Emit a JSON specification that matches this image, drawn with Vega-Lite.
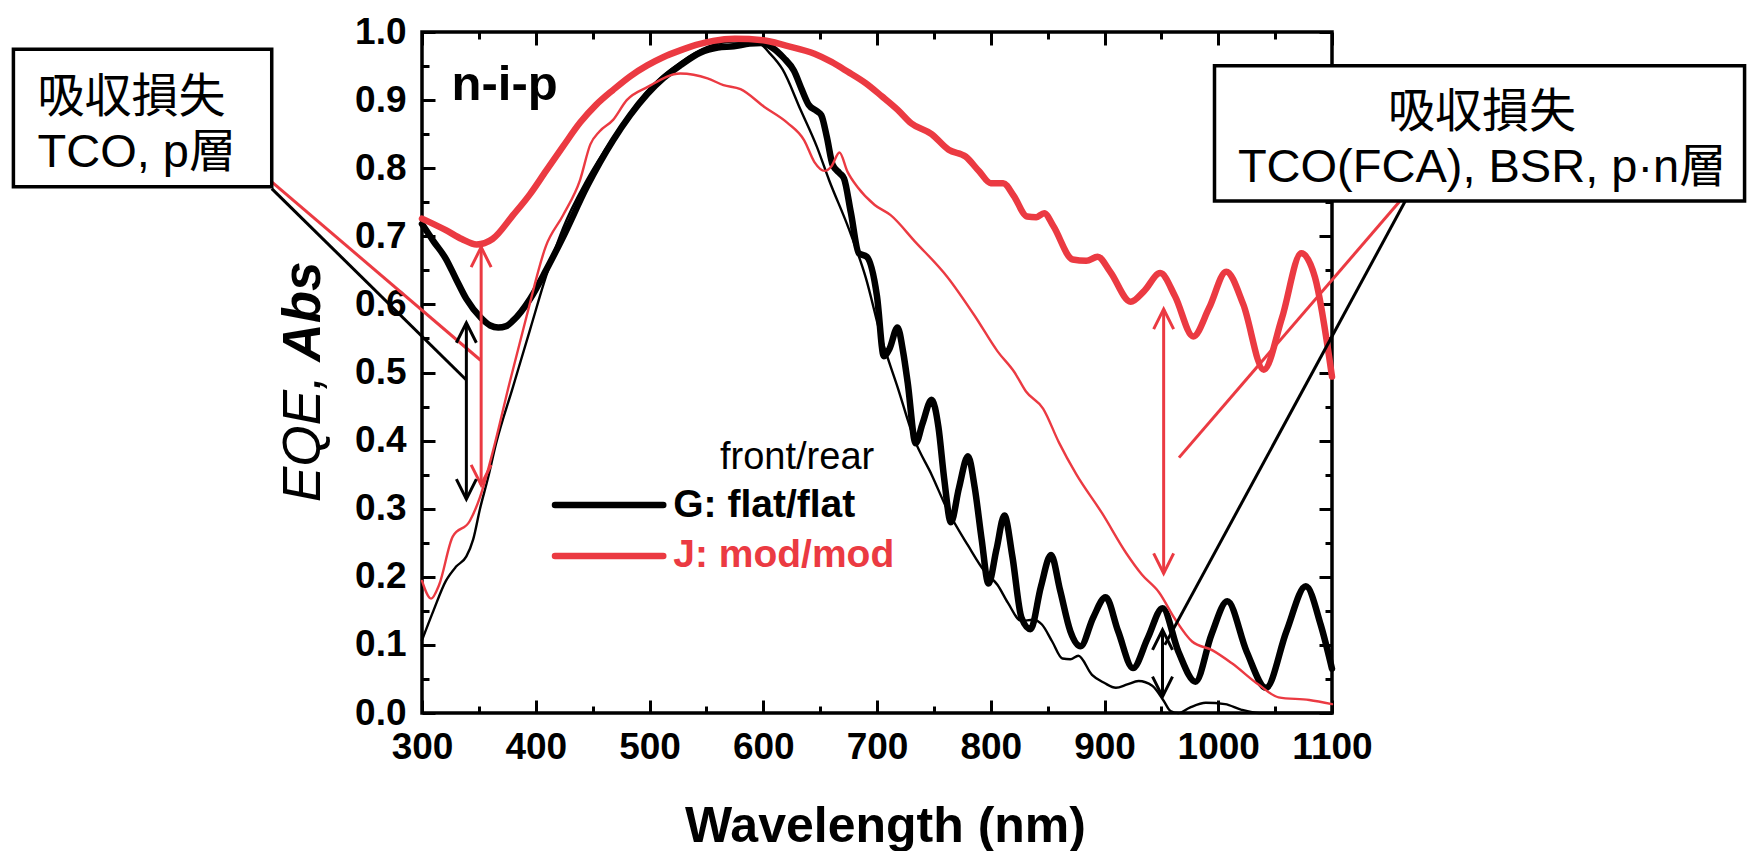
{
  "$schema": "https://vega.github.io/schema/vega-lite/v6.json",
  "width": 910,
  "height": 681,
  "autosize": {"type": "none"},
  "padding": {"left": 422, "top": 32, "right": 416, "bottom": 138},
  "background": "white",
  "config": {
    "view": {"stroke": "black", "strokeWidth": 3.5},
    "axis": {"domain": false, "grid": false, "ticks": true, "tickColor": "black", "tickWidth": 3, "labelFont": "Liberation Sans", "labelFontSize": 37, "labelFontWeight": "bold", "labelColor": "black", "labelFlush": false, "labelOverlap": false, "titleColor": "black"},
    "text": {"font": "Liberation Sans, Noto Sans CJK JP, sans-serif", "color": "black"}
  },
  "datasets": {
    "curves": [
      {"c":"G","t":"Abs","x":300,"y":0.718},{"c":"G","t":"Abs","x":310,"y":0.693},{"c":"G","t":"Abs","x":321,"y":0.667},{"c":"G","t":"Abs","x":330,"y":0.637},{"c":"G","t":"Abs","x":339,"y":0.608},{"c":"G","t":"Abs","x":352,"y":0.58},{"c":"G","t":"Abs","x":360,"y":0.569},{"c":"G","t":"Abs","x":367,"y":0.566},{"c":"G","t":"Abs","x":374,"y":0.568},{"c":"G","t":"Abs","x":380,"y":0.576},{"c":"G","t":"Abs","x":395,"y":0.608},{"c":"G","t":"Abs","x":409,"y":0.65},{"c":"G","t":"Abs","x":424,"y":0.699},{"c":"G","t":"Abs","x":445,"y":0.773},{"c":"G","t":"Abs","x":468,"y":0.841},{"c":"G","t":"Abs","x":483,"y":0.878},{"c":"G","t":"Abs","x":498,"y":0.909},{"c":"G","t":"Abs","x":512,"y":0.932},{"c":"G","t":"Abs","x":527,"y":0.951},{"c":"G","t":"Abs","x":545,"y":0.97},{"c":"G","t":"Abs","x":560,"y":0.977},{"c":"G","t":"Abs","x":574,"y":0.979},{"c":"G","t":"Abs","x":588,"y":0.983},{"c":"G","t":"Abs","x":598,"y":0.984},{"c":"G","t":"Abs","x":608,"y":0.977},{"c":"G","t":"Abs","x":618,"y":0.962},{"c":"G","t":"Abs","x":627,"y":0.943},{"c":"G","t":"Abs","x":634,"y":0.915},{"c":"G","t":"Abs","x":640,"y":0.893},{"c":"G","t":"Abs","x":647,"y":0.884},{"c":"G","t":"Abs","x":651,"y":0.878},{"c":"G","t":"Abs","x":656,"y":0.845},{"c":"G","t":"Abs","x":661,"y":0.805},{"c":"G","t":"Abs","x":667,"y":0.793},{"c":"G","t":"Abs","x":671,"y":0.785},{"c":"G","t":"Abs","x":677,"y":0.735},{"c":"G","t":"Abs","x":684,"y":0.675},{"c":"G","t":"Abs","x":691,"y":0.67},{"c":"G","t":"Abs","x":700,"y":0.612},{"c":"G","t":"Abs","x":706,"y":0.524},{"c":"G","t":"Abs","x":711,"y":0.535},{"c":"G","t":"Abs","x":718,"y":0.566},{"c":"G","t":"Abs","x":723,"y":0.53},{"c":"G","t":"Abs","x":727,"y":0.485},{"c":"G","t":"Abs","x":734,"y":0.396},{"c":"G","t":"Abs","x":740,"y":0.425},{"c":"G","t":"Abs","x":748,"y":0.46},{"c":"G","t":"Abs","x":754,"y":0.42},{"c":"G","t":"Abs","x":759,"y":0.345},{"c":"G","t":"Abs","x":765,"y":0.28},{"c":"G","t":"Abs","x":772,"y":0.33},{"c":"G","t":"Abs","x":780,"y":0.377},{"c":"G","t":"Abs","x":786,"y":0.33},{"c":"G","t":"Abs","x":792,"y":0.255},{"c":"G","t":"Abs","x":798,"y":0.19},{"c":"G","t":"Abs","x":805,"y":0.24},{"c":"G","t":"Abs","x":812,"y":0.29},{"c":"G","t":"Abs","x":819,"y":0.23},{"c":"G","t":"Abs","x":827,"y":0.14},{"c":"G","t":"Abs","x":835,"y":0.123},{"c":"G","t":"Abs","x":844,"y":0.185},{"c":"G","t":"Abs","x":853,"y":0.232},{"c":"G","t":"Abs","x":861,"y":0.18},{"c":"G","t":"Abs","x":870,"y":0.12},{"c":"G","t":"Abs","x":879,"y":0.098},{"c":"G","t":"Abs","x":890,"y":0.14},{"c":"G","t":"Abs","x":901,"y":0.17},{"c":"G","t":"Abs","x":912,"y":0.12},{"c":"G","t":"Abs","x":925,"y":0.066},{"c":"G","t":"Abs","x":938,"y":0.11},{"c":"G","t":"Abs","x":951,"y":0.154},{"c":"G","t":"Abs","x":965,"y":0.09},{"c":"G","t":"Abs","x":980,"y":0.046},{"c":"G","t":"Abs","x":994,"y":0.115},{"c":"G","t":"Abs","x":1008,"y":0.164},{"c":"G","t":"Abs","x":1025,"y":0.09},{"c":"G","t":"Abs","x":1042,"y":0.037},{"c":"G","t":"Abs","x":1060,"y":0.12},{"c":"G","t":"Abs","x":1077,"y":0.186},{"c":"G","t":"Abs","x":1090,"y":0.13},{"c":"G","t":"Abs","x":1100,"y":0.065},
      {"c":"G","t":"EQE","x":300,"y":0.107},{"c":"G","t":"EQE","x":310,"y":0.15},{"c":"G","t":"EQE","x":321,"y":0.194},{"c":"G","t":"EQE","x":330,"y":0.215},{"c":"G","t":"EQE","x":339,"y":0.23},{"c":"G","t":"EQE","x":345,"y":0.255},{"c":"G","t":"EQE","x":351,"y":0.3},{"c":"G","t":"EQE","x":358,"y":0.345},{"c":"G","t":"EQE","x":365,"y":0.395},{"c":"G","t":"EQE","x":380,"y":0.479},{"c":"G","t":"EQE","x":395,"y":0.563},{"c":"G","t":"EQE","x":409,"y":0.641},{"c":"G","t":"EQE","x":424,"y":0.712},{"c":"G","t":"EQE","x":445,"y":0.783},{"c":"G","t":"EQE","x":468,"y":0.845},{"c":"G","t":"EQE","x":498,"y":0.913},{"c":"G","t":"EQE","x":527,"y":0.955},{"c":"G","t":"EQE","x":551,"y":0.978},{"c":"G","t":"EQE","x":575,"y":0.986},{"c":"G","t":"EQE","x":595,"y":0.985},{"c":"G","t":"EQE","x":605,"y":0.97},{"c":"G","t":"EQE","x":617,"y":0.945},{"c":"G","t":"EQE","x":633,"y":0.885},{"c":"G","t":"EQE","x":647,"y":0.832},{"c":"G","t":"EQE","x":658,"y":0.782},{"c":"G","t":"EQE","x":675,"y":0.712},{"c":"G","t":"EQE","x":690,"y":0.64},{"c":"G","t":"EQE","x":704,"y":0.55},{"c":"G","t":"EQE","x":718,"y":0.479},{"c":"G","t":"EQE","x":733,"y":0.401},{"c":"G","t":"EQE","x":748,"y":0.35},{"c":"G","t":"EQE","x":762,"y":0.298},{"c":"G","t":"EQE","x":780,"y":0.246},{"c":"G","t":"EQE","x":795,"y":0.207},{"c":"G","t":"EQE","x":806,"y":0.188},{"c":"G","t":"EQE","x":815,"y":0.162},{"c":"G","t":"EQE","x":827,"y":0.135},{"c":"G","t":"EQE","x":837,"y":0.137},{"c":"G","t":"EQE","x":845,"y":0.13},{"c":"G","t":"EQE","x":854,"y":0.105},{"c":"G","t":"EQE","x":863,"y":0.08},{"c":"G","t":"EQE","x":870,"y":0.079},{"c":"G","t":"EQE","x":877,"y":0.084},{"c":"G","t":"EQE","x":889,"y":0.056},{"c":"G","t":"EQE","x":900,"y":0.044},{"c":"G","t":"EQE","x":910,"y":0.037},{"c":"G","t":"EQE","x":920,"y":0.042},{"c":"G","t":"EQE","x":930,"y":0.047},{"c":"G","t":"EQE","x":942,"y":0.04},{"c":"G","t":"EQE","x":952,"y":0.018},{"c":"G","t":"EQE","x":958,"y":0.003},{"c":"G","t":"EQE","x":965,"y":0.0},{"c":"G","t":"EQE","x":975,"y":0.008},{"c":"G","t":"EQE","x":989,"y":0.015},{"c":"G","t":"EQE","x":1006,"y":0.013},{"c":"G","t":"EQE","x":1020,"y":0.005},{"c":"G","t":"EQE","x":1036,"y":0.0},{"c":"G","t":"EQE","x":1100,"y":0.0},
      {"c":"J","t":"Abs","x":300,"y":0.726},{"c":"J","t":"Abs","x":321,"y":0.709},{"c":"J","t":"Abs","x":335,"y":0.696},{"c":"J","t":"Abs","x":348,"y":0.688},{"c":"J","t":"Abs","x":362,"y":0.696},{"c":"J","t":"Abs","x":380,"y":0.731},{"c":"J","t":"Abs","x":395,"y":0.762},{"c":"J","t":"Abs","x":409,"y":0.796},{"c":"J","t":"Abs","x":424,"y":0.832},{"c":"J","t":"Abs","x":439,"y":0.867},{"c":"J","t":"Abs","x":453,"y":0.893},{"c":"J","t":"Abs","x":468,"y":0.915},{"c":"J","t":"Abs","x":483,"y":0.935},{"c":"J","t":"Abs","x":498,"y":0.951},{"c":"J","t":"Abs","x":512,"y":0.963},{"c":"J","t":"Abs","x":527,"y":0.973},{"c":"J","t":"Abs","x":541,"y":0.981},{"c":"J","t":"Abs","x":556,"y":0.987},{"c":"J","t":"Abs","x":575,"y":0.99},{"c":"J","t":"Abs","x":600,"y":0.988},{"c":"J","t":"Abs","x":620,"y":0.98},{"c":"J","t":"Abs","x":645,"y":0.968},{"c":"J","t":"Abs","x":660,"y":0.956},{"c":"J","t":"Abs","x":674,"y":0.942},{"c":"J","t":"Abs","x":690,"y":0.925},{"c":"J","t":"Abs","x":704,"y":0.906},{"c":"J","t":"Abs","x":718,"y":0.886},{"c":"J","t":"Abs","x":730,"y":0.866},{"c":"J","t":"Abs","x":748,"y":0.85},{"c":"J","t":"Abs","x":763,"y":0.827},{"c":"J","t":"Abs","x":778,"y":0.817},{"c":"J","t":"Abs","x":790,"y":0.795},{"c":"J","t":"Abs","x":800,"y":0.778},{"c":"J","t":"Abs","x":811,"y":0.778},{"c":"J","t":"Abs","x":820,"y":0.76},{"c":"J","t":"Abs","x":832,"y":0.729},{"c":"J","t":"Abs","x":840,"y":0.728},{"c":"J","t":"Abs","x":847,"y":0.734},{"c":"J","t":"Abs","x":855,"y":0.715},{"c":"J","t":"Abs","x":872,"y":0.666},{"c":"J","t":"Abs","x":884,"y":0.664},{"c":"J","t":"Abs","x":894,"y":0.67},{"c":"J","t":"Abs","x":905,"y":0.648},{"c":"J","t":"Abs","x":923,"y":0.604},{"c":"J","t":"Abs","x":935,"y":0.62},{"c":"J","t":"Abs","x":949,"y":0.646},{"c":"J","t":"Abs","x":962,"y":0.612},{"c":"J","t":"Abs","x":978,"y":0.553},{"c":"J","t":"Abs","x":992,"y":0.595},{"c":"J","t":"Abs","x":1007,"y":0.648},{"c":"J","t":"Abs","x":1022,"y":0.6},{"c":"J","t":"Abs","x":1040,"y":0.504},{"c":"J","t":"Abs","x":1056,"y":0.58},{"c":"J","t":"Abs","x":1073,"y":0.675},{"c":"J","t":"Abs","x":1085,"y":0.64},{"c":"J","t":"Abs","x":1100,"y":0.494},
      {"c":"J","t":"EQE","x":300,"y":0.194},{"c":"J","t":"EQE","x":308,"y":0.168},{"c":"J","t":"EQE","x":315,"y":0.188},{"c":"J","t":"EQE","x":327,"y":0.259},{"c":"J","t":"EQE","x":342,"y":0.282},{"c":"J","t":"EQE","x":351,"y":0.317},{"c":"J","t":"EQE","x":362,"y":0.382},{"c":"J","t":"EQE","x":377,"y":0.485},{"c":"J","t":"EQE","x":392,"y":0.583},{"c":"J","t":"EQE","x":409,"y":0.686},{"c":"J","t":"EQE","x":424,"y":0.731},{"c":"J","t":"EQE","x":439,"y":0.783},{"c":"J","t":"EQE","x":448,"y":0.835},{"c":"J","t":"EQE","x":456,"y":0.854},{"c":"J","t":"EQE","x":468,"y":0.871},{"c":"J","t":"EQE","x":480,"y":0.9},{"c":"J","t":"EQE","x":498,"y":0.919},{"c":"J","t":"EQE","x":527,"y":0.939},{"c":"J","t":"EQE","x":551,"y":0.932},{"c":"J","t":"EQE","x":565,"y":0.922},{"c":"J","t":"EQE","x":580,"y":0.916},{"c":"J","t":"EQE","x":601,"y":0.89},{"c":"J","t":"EQE","x":621,"y":0.867},{"c":"J","t":"EQE","x":636,"y":0.841},{"c":"J","t":"EQE","x":645,"y":0.809},{"c":"J","t":"EQE","x":654,"y":0.796},{"c":"J","t":"EQE","x":660,"y":0.803},{"c":"J","t":"EQE","x":667,"y":0.823},{"c":"J","t":"EQE","x":674,"y":0.795},{"c":"J","t":"EQE","x":683,"y":0.772},{"c":"J","t":"EQE","x":698,"y":0.746},{"c":"J","t":"EQE","x":712,"y":0.731},{"c":"J","t":"EQE","x":733,"y":0.693},{"c":"J","t":"EQE","x":762,"y":0.64},{"c":"J","t":"EQE","x":786,"y":0.583},{"c":"J","t":"EQE","x":806,"y":0.531},{"c":"J","t":"EQE","x":821,"y":0.5},{"c":"J","t":"EQE","x":831,"y":0.472},{"c":"J","t":"EQE","x":846,"y":0.447},{"c":"J","t":"EQE","x":860,"y":0.397},{"c":"J","t":"EQE","x":875,"y":0.351},{"c":"J","t":"EQE","x":898,"y":0.293},{"c":"J","t":"EQE","x":919,"y":0.235},{"c":"J","t":"EQE","x":933,"y":0.203},{"c":"J","t":"EQE","x":948,"y":0.177},{"c":"J","t":"EQE","x":962,"y":0.138},{"c":"J","t":"EQE","x":977,"y":0.105},{"c":"J","t":"EQE","x":995,"y":0.092},{"c":"J","t":"EQE","x":1012,"y":0.073},{"c":"J","t":"EQE","x":1036,"y":0.041},{"c":"J","t":"EQE","x":1053,"y":0.023},{"c":"J","t":"EQE","x":1080,"y":0.019},{"c":"J","t":"EQE","x":1100,"y":0.013}
    ],
    "leaders": [
      {"c":"J","x":167.9,"y":0.78,"x2":351.5,"y2":0.518},
      {"c":"G","x":167.9,"y":0.77,"x2":339,"y2":0.489},
      {"c":"J","x":1159.4,"y":0.751,"x2":965.5,"y2":0.375},
      {"c":"G","x":1164.2,"y":0.751,"x2":953,"y2":0.1}
    ],
    "shafts": [
      {"c":"J","x":352,"y":0.335,"y2":0.684},
      {"c":"G","x":339,"y":0.314,"y2":0.573},
      {"c":"J","x":952,"y":0.205,"y2":0.593},
      {"c":"G","x":951,"y":0.024,"y2":0.122}
    ],
    "heads": [
      {"c":"J","x":352,"y":0.684,"d":"up"},{"c":"J","x":352,"y":0.335,"d":"down"},
      {"c":"G","x":339,"y":0.573,"d":"up"},{"c":"G","x":339,"y":0.314,"d":"down"},
      {"c":"J","x":952,"y":0.593,"d":"up"},{"c":"J","x":952,"y":0.205,"d":"down"},
      {"c":"G","x":951,"y":0.122,"d":"up"},{"c":"G","x":951,"y":0.024,"d":"down"}
    ],
    "boxes": [
      {"x":-59.2,"x2":167.9,"y":0.9746,"y2":0.7728},
      {"x":996.7,"x2":1462.7,"y":0.9505,"y2":0.7518}
    ],
    "legendLines": [
      {"c":"G","x":416.9,"x2":512.1,"y":0.3054},
      {"c":"J","x":416.9,"x2":512.1,"y":0.2305}
    ],
    "texts": [
      {"role":"nip","text":"n-i-p","x":326,"y":0.9},
      {"role":"head","text":"front/rear","x":562,"y":0.358},
      {"role":"legG","text":"G: flat/flat","x":520.9,"y":0.2874},
      {"role":"legJ","text":"J: mod/mod","x":520.9,"y":0.214},
      {"role":"boxL","text":"吸収損失","x":-38,"y":0.883},
      {"role":"boxL","text":"TCO, p層","x":-38,"y":0.8012},
      {"role":"boxR","text":"吸収損失","x":1231.9,"y":0.861},
      {"role":"boxR","text":"TCO(FCA), BSR, p·n層","x":1231.9,"y":0.7802},
      {"role":"yA","text":"EQE,","x":210.3,"y":0.31},
      {"role":"yB","text":"Abs","x":210.3,"y":0.663}
    ]
  },
  "resolve": {"axis": {"x": "independent", "y": "independent"}},
  "layer": [
    {
      "data": {"name": "curves"},
      "mark": {"type": "line", "interpolate": "monotone", "strokeCap": "round", "strokeJoin": "round"},
      "encoding": {
        "x": {"field": "x", "type": "quantitative", "scale": {"domain": [300, 1100], "nice": false, "zero": false},
          "axis": {"orient": "bottom", "values": [300,400,500,600,700,800,900,1000,1100], "format": "d", "tickSize": -13, "labelPadding": 29,
            "title": "Wavelength (nm)", "titleFont": "Liberation Sans", "titleFontSize": 50, "titleFontWeight": "bold", "titleBaseline": "alphabetic", "titleX": 463, "titleY": 128}},
        "y": {"field": "y", "type": "quantitative", "scale": {"domain": [0, 1], "nice": false, "zero": false},
          "axis": {"orient": "left", "values": [0,0.1,0.2,0.3,0.4,0.5,0.6,0.7,0.8,0.9,1.0], "format": ".1f", "tickSize": -13, "labelPadding": 29, "title": null}},
        "color": {"field": "c", "type": "nominal", "scale": {"domain": ["G","J"], "range": ["#000000","#EB3A42"]}, "legend": null},
        "strokeWidth": {"field": "t", "type": "nominal", "scale": {"domain": ["Abs","EQE"], "range": [6.5, 2.4]}, "legend": null},
        "detail": {"field": "t"}
      }
    },
    {
      "data": {"name": "leaders"},
      "mark": {"type": "rule", "strokeWidth": 3},
      "encoding": {
        "x": {"field": "x", "type": "quantitative", "scale": {"domain": [300, 1100], "nice": false, "zero": false},
          "axis": {"orient": "bottom", "values": [350,450,550,650,750,850,950,1050], "tickSize": -7, "labels": false, "title": null}},
        "y": {"field": "y", "type": "quantitative", "scale": {"domain": [0, 1], "nice": false, "zero": false},
          "axis": {"orient": "left", "values": [0.05,0.15,0.25,0.35,0.45,0.55,0.65,0.75,0.85,0.95], "tickSize": -7, "labels": false, "title": null}},
        "x2": {"field": "x2"},
        "y2": {"field": "y2"},
        "color": {"field": "c", "type": "nominal", "scale": {"domain": ["G","J"], "range": ["#000000","#EB3A42"]}, "legend": null}
      }
    },
    {
      "data": {"name": "shafts"},
      "mark": {"type": "rule", "strokeWidth": 3},
      "encoding": {
        "x": {"field": "x", "type": "quantitative", "scale": {"domain": [300, 1100], "nice": false, "zero": false},
          "axis": {"orient": "top", "values": [300,400,500,600,700,800,900,1000,1100], "tickSize": -13, "labels": false, "title": null}},
        "y": {"field": "y", "type": "quantitative", "scale": {"domain": [0, 1], "nice": false, "zero": false},
          "axis": {"orient": "right", "values": [0,0.1,0.2,0.3,0.4,0.5,0.6,0.7,0.8,0.9,1.0], "tickSize": -13, "labels": false, "title": null}},
        "y2": {"field": "y2"},
        "color": {"field": "c", "type": "nominal", "scale": {"domain": ["G","J"], "range": ["#000000","#EB3A42"]}, "legend": null}
      }
    },
    {
      "data": {"name": "heads"},
      "mark": {"type": "point", "filled": false, "strokeWidth": 3, "size": 1600, "opacity": 1, "strokeJoin": "miter"},
      "encoding": {
        "x": {"field": "x", "type": "quantitative", "scale": {"domain": [300, 1100], "nice": false, "zero": false},
          "axis": {"orient": "top", "values": [350,450,550,650,750,850,950,1050], "tickSize": -7, "labels": false, "title": null}},
        "y": {"field": "y", "type": "quantitative", "scale": {"domain": [0, 1], "nice": false, "zero": false},
          "axis": {"orient": "right", "values": [0.05,0.15,0.25,0.35,0.45,0.55,0.65,0.75,0.85,0.95], "tickSize": -7, "labels": false, "title": null}},
        "shape": {"field": "d", "type": "nominal", "scale": {"domain": ["up","down"], "range": ["M-0.5,1L0,0L0.5,1", "M-0.5,-1L0,0L0.5,-1"]}, "legend": null},
        "color": {"field": "c", "type": "nominal", "scale": {"domain": ["G","J"], "range": ["#000000","#EB3A42"]}, "legend": null}
      }
    },
    {
      "data": {"name": "legendLines"},
      "mark": {"type": "rule", "strokeWidth": 6.5, "strokeCap": "round"},
      "encoding": {
        "x": {"field": "x", "type": "quantitative", "scale": {"domain": [300, 1100], "nice": false, "zero": false}, "axis": null},
        "x2": {"field": "x2"},
        "y": {"field": "y", "type": "quantitative", "scale": {"domain": [0, 1], "nice": false, "zero": false}, "axis": null},
        "color": {"field": "c", "type": "nominal", "scale": {"domain": ["G","J"], "range": ["#000000","#EB3A42"]}, "legend": null}
      }
    },
    {
      "data": {"name": "boxes"},
      "mark": {"type": "rect", "fill": "white", "stroke": "black", "strokeWidth": 3.5},
      "encoding": {
        "x": {"field": "x", "type": "quantitative", "scale": {"domain": [300, 1100], "nice": false, "zero": false}, "axis": null},
        "x2": {"field": "x2"},
        "y": {"field": "y", "type": "quantitative", "scale": {"domain": [0, 1], "nice": false, "zero": false}, "axis": null},
        "y2": {"field": "y2"}
      }
    },
    {
      "data": {"name": "texts"},
      "transform": [{"filter": "datum.role === 'nip'"}],
      "mark": {"type": "text", "font": "Liberation Sans", "fontSize": 49, "fontWeight": "bold", "align": "left", "baseline": "alphabetic", "color": "black"},
      "encoding": {
        "x": {"field": "x", "type": "quantitative", "scale": {"domain": [300, 1100], "nice": false, "zero": false}, "axis": null},
        "y": {"field": "y", "type": "quantitative", "scale": {"domain": [0, 1], "nice": false, "zero": false}, "axis": null},
        "text": {"field": "text"}
      }
    },
    {
      "data": {"name": "texts"},
      "transform": [{"filter": "datum.role === 'head'"}],
      "mark": {"type": "text", "font": "Liberation Sans", "fontSize": 38, "fontWeight": "normal", "align": "left", "baseline": "alphabetic", "color": "black"},
      "encoding": {
        "x": {"field": "x", "type": "quantitative", "scale": {"domain": [300, 1100], "nice": false, "zero": false}, "axis": null},
        "y": {"field": "y", "type": "quantitative", "scale": {"domain": [0, 1], "nice": false, "zero": false}, "axis": null},
        "text": {"field": "text"}
      }
    },
    {
      "data": {"name": "texts"},
      "transform": [{"filter": "datum.role === 'legG'"}],
      "mark": {"type": "text", "font": "Liberation Sans", "fontSize": 39, "fontWeight": "bold", "align": "left", "baseline": "alphabetic", "color": "black"},
      "encoding": {
        "x": {"field": "x", "type": "quantitative", "scale": {"domain": [300, 1100], "nice": false, "zero": false}, "axis": null},
        "y": {"field": "y", "type": "quantitative", "scale": {"domain": [0, 1], "nice": false, "zero": false}, "axis": null},
        "text": {"field": "text"}
      }
    },
    {
      "data": {"name": "texts"},
      "transform": [{"filter": "datum.role === 'legJ'"}],
      "mark": {"type": "text", "font": "Liberation Sans", "fontSize": 39, "fontWeight": "bold", "align": "left", "baseline": "alphabetic", "color": "#EB3A42"},
      "encoding": {
        "x": {"field": "x", "type": "quantitative", "scale": {"domain": [300, 1100], "nice": false, "zero": false}, "axis": null},
        "y": {"field": "y", "type": "quantitative", "scale": {"domain": [0, 1], "nice": false, "zero": false}, "axis": null},
        "text": {"field": "text"}
      }
    },
    {
      "data": {"name": "texts"},
      "transform": [{"filter": "datum.role === 'boxL'"}],
      "mark": {"type": "text", "font": "Liberation Sans, Noto Sans CJK JP", "fontSize": 47, "fontWeight": "normal", "align": "left", "baseline": "alphabetic", "color": "black"},
      "encoding": {
        "x": {"field": "x", "type": "quantitative", "scale": {"domain": [300, 1100], "nice": false, "zero": false}, "axis": null},
        "y": {"field": "y", "type": "quantitative", "scale": {"domain": [0, 1], "nice": false, "zero": false}, "axis": null},
        "text": {"field": "text"}
      }
    },
    {
      "data": {"name": "texts"},
      "transform": [{"filter": "datum.role === 'boxR'"}],
      "mark": {"type": "text", "font": "Liberation Sans, Noto Sans CJK JP", "fontSize": 47, "fontWeight": "normal", "align": "center", "baseline": "alphabetic", "color": "black"},
      "encoding": {
        "x": {"field": "x", "type": "quantitative", "scale": {"domain": [300, 1100], "nice": false, "zero": false}, "axis": null},
        "y": {"field": "y", "type": "quantitative", "scale": {"domain": [0, 1], "nice": false, "zero": false}, "axis": null},
        "text": {"field": "text"}
      }
    },
    {
      "data": {"name": "texts"},
      "transform": [{"filter": "datum.role === 'yA'"}],
      "mark": {"type": "text", "font": "Liberation Sans", "fontSize": 53, "fontStyle": "italic", "fontWeight": "normal", "angle": 270, "align": "left", "baseline": "alphabetic", "color": "black"},
      "encoding": {
        "x": {"field": "x", "type": "quantitative", "scale": {"domain": [300, 1100], "nice": false, "zero": false}, "axis": null},
        "y": {"field": "y", "type": "quantitative", "scale": {"domain": [0, 1], "nice": false, "zero": false}, "axis": null},
        "text": {"field": "text"}
      }
    },
    {
      "data": {"name": "texts"},
      "transform": [{"filter": "datum.role === 'yB'"}],
      "mark": {"type": "text", "font": "Liberation Sans", "fontSize": 53, "fontStyle": "italic", "fontWeight": "bold", "angle": 270, "align": "right", "baseline": "alphabetic", "color": "black"},
      "encoding": {
        "x": {"field": "x", "type": "quantitative", "scale": {"domain": [300, 1100], "nice": false, "zero": false}, "axis": null},
        "y": {"field": "y", "type": "quantitative", "scale": {"domain": [0, 1], "nice": false, "zero": false}, "axis": null},
        "text": {"field": "text"}
      }
    }
  ]
}
